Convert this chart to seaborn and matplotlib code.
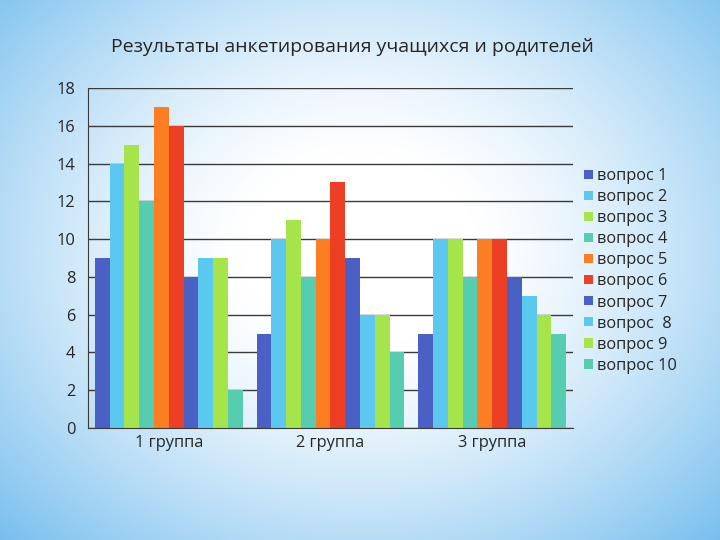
import numpy as np
import pandas as pd
import matplotlib
matplotlib.use("Agg")
import matplotlib.pyplot as plt
import seaborn as sns

groups = ["1 группа", "2 группа", "3 группа"]
questions = ["вопрос 1", "вопрос 2", "вопрос 3", "вопрос 4", "вопрос 5",
             "вопрос 6", "вопрос 7", "вопрос  8", "вопрос 9", "вопрос 10"]
group1 = [9, 14, 15, 12, 17, 16, 8, 9, 9, 2]
group2 = [5, 10, 11, 8, 10, 13, 9, 6, 6, 4]
group3 = [5, 10, 10, 8, 10, 10, 8, 7, 6, 5]
colors = ["#4a60c4", "#5bc8f0", "#a6e44c", "#56cdb0", "#fb7e22",
          "#ec3f23", "#4a60c4", "#5bc8f0", "#a6e44c", "#56cdb0"]
title = "Результаты анкетирования учащихся и родителей"

rows = []
for g, vals in zip(groups, [group1, group2, group3]):
    for q, v in zip(questions, vals):
        rows.append({"group": g, "question": q, "value": v})
df = pd.DataFrame(rows)

sns.set_style("white")
plt.rcParams["font.family"] = ["Open Sans", "DejaVu Sans"]

fig = plt.figure(figsize=(7.2, 5.4), dpi=100)

# background radial gradient
bg = fig.add_axes([0, 0, 1, 1], zorder=-10)
yy, xx = np.mgrid[0:540, 0:720]
r = np.sqrt(((xx - 360) / 470.0) ** 2 + ((yy - 250) / 380.0) ** 2)
t = np.clip((r - 0.25) / 0.85, 0, 1) ** 1.3
c0 = np.array([1.0, 1.0, 1.0])
c1 = np.array([0x74, 0xbd, 0xee]) / 255.0
img = c0[None, None, :] * (1 - t[..., None]) + c1[None, None, :] * t[..., None]
bg.imshow(img, aspect="auto", extent=[0, 1, 0, 1])
bg.axis("off")

ax = fig.add_axes([0.1222, 0.2074, 0.6736, 0.6296])
ax.patch.set_alpha(0)
sns.barplot(data=df, x="group", y="value", hue="question", palette=colors,
            width=0.915, saturation=1, ax=ax, edgecolor="none", linewidth=0)

ax.set_ylim(0, 18)
ax.set_yticks(range(0, 19, 2))
ax.set_xlim(-0.5, 2.5)
ax.yaxis.grid(True, color="#3a3a3a", linewidth=1)
ax.set_axisbelow(True)
ax.set_xlabel("")
ax.set_ylabel("")
for s in ["top", "right"]:
    ax.spines[s].set_visible(False)
ax.spines["left"].set_color("#3a3a3a")
ax.spines["bottom"].set_color("#3a3a3a")
ax.tick_params(axis="y", labelsize=11.8, length=4, color="#3a3a3a", direction="out", pad=5)
ax.tick_params(axis="x", which="major", labelsize=11.8, length=0, pad=5)
ax.set_xticks([-0.5, 0.5, 1.5, 2.5], minor=True)
ax.tick_params(axis="x", which="minor", length=5, color="#3a3a3a", direction="out")

handles, labels = ax.get_legend_handles_labels()
ax.legend(handles, labels, loc="center left", bbox_to_anchor=(1.01, 0.462),
          frameon=False, fontsize=11.8, handlelength=0.5, handleheight=0.5,
          handletextpad=0.3, labelspacing=0.31, borderaxespad=0)

fig.text(0.49, 0.913, title, ha="center", va="center", fontsize=14)

fig.savefig("out.png", dpi=100)
